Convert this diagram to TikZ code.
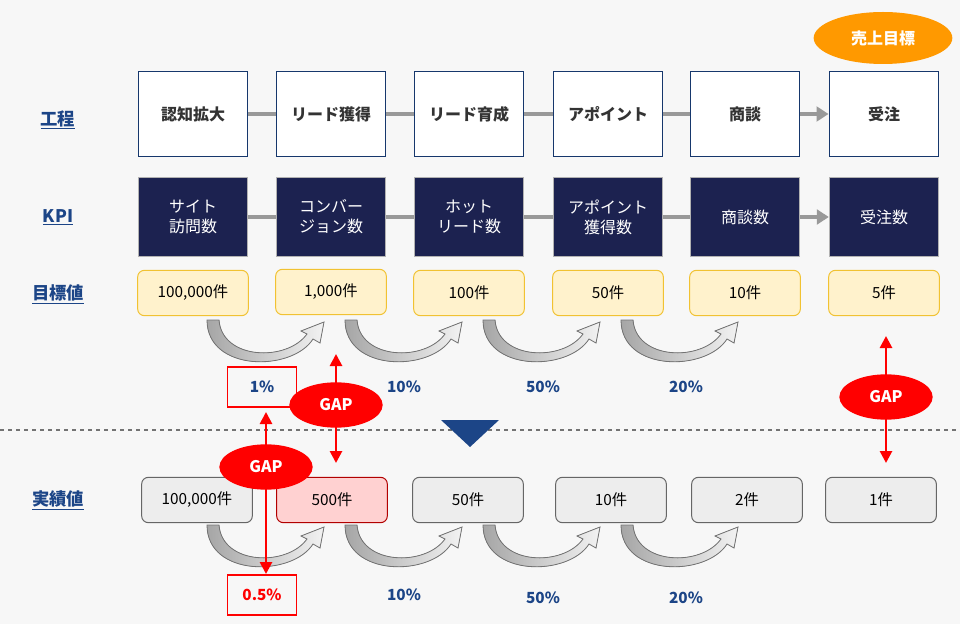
\documentclass[tikz,border=0pt]{standalone}
\usepackage{fontspec}
\setmainfont{Noto Sans CJK JP}
\usetikzlibrary{arrows.meta,shapes.geometric}
\definecolor{bgc}{HTML}{F7F7F7}
\definecolor{navy}{HTML}{1C2250}
\definecolor{lblue}{HTML}{1C4587}
\definecolor{goalfill}{HTML}{FFF2CC}
\definecolor{goaldraw}{HTML}{F1C232}
\definecolor{gapred}{HTML}{FF0000}
\definecolor{orng}{HTML}{FF9900}
\tikzset{every picture/.style={line width=0.75pt},
  procbox/.style={draw=lblue!80!black,fill=white,line width=1.2pt,minimum width=82pt,minimum height=64pt,font=\bfseries\fontsize{12}{14}\selectfont,text=black!80},
  kpibox/.style={fill=navy,draw=gray!60,minimum width=82pt,minimum height=59pt,align=center,font=\fontsize{12}{15}\selectfont,text=white},
  goalbox/.style={draw=goaldraw,fill=goalfill,rounded corners=5pt,minimum width=83pt,minimum height=34pt,font=\fontsize{11.5}{14}\selectfont},
  actbox/.style={draw=black!60,fill=black!7,rounded corners=5pt,minimum width=83pt,minimum height=34pt,font=\fontsize{11.5}{14}\selectfont},
  rowlbl/.style={font=\bfseries\fontsize{13}{15}\selectfont,text=lblue},
  pct/.style={font=\bfseries\fontsize{11.5}{14}\selectfont,text=lblue},
  gapell/.style={ellipse,fill=gapred,minimum width=70pt,minimum height=34pt,inner sep=0pt,font=\bfseries\fontsize{12}{14}\selectfont,text=white},
  link/.style={draw=black!40,line width=2.5pt},
  gaparrow/.style={draw=gapred,line width=2pt,{Triangle[width=9pt,length=9pt]}-{Triangle[width=9pt,length=9pt]}}
}
\newcommand{\turnarrow}[2]{%
  \fill[left color=black!35,right color=black!5,draw=black!55,line width=0.6pt,shift={(#1,#2)}]
    (0,0) -- (12,0) .. controls (15,40) and (80,42) .. (100,14) -- (94,11) -- (117,2) -- (113,23) -- (106,19)
    .. controls (85,52) and (0,52) .. (0,0) -- cycle;}

\begin{document}
\begin{tikzpicture}[x=0.75pt,y=0.75pt,yscale=-1,xscale=1]
\useasboundingbox[fill=bgc] (0,0) rectangle (960,624);

% row labels
\node[rowlbl] (lproc) at (58,120) {\underline{工程}};
\node[rowlbl] (lkpi) at (58,217) {\underline{KPI}};
\node[rowlbl] (lgoal) at (58,294) {\underline{目標値}};
\node[rowlbl] (lact) at (58,500) {\underline{実績値}};

% process row
\node[procbox] (p1) at (193,114) {認知拡大};
\node[procbox] (p2) at (331,114) {リード獲得};
\node[procbox] (p3) at (469,114) {リード育成};
\node[procbox] (p4) at (608,114) {アポイント};
\node[procbox] (p5) at (745,114) {商談};
\node[procbox] (p6) at (884,114) {受注};
\foreach \a/\b in {p1/p2,p2/p3,p3/p4,p4/p5} \draw[link] (\a) -- (\b);
\draw[link,-{Triangle[width=11pt,length=9pt]}] (p5) -- (p6);

% KPI row
\node[kpibox] (k1) at (193,217) {サイト\\訪問数};
\node[kpibox] (k2) at (331,217) {コンバー\\ジョン数};
\node[kpibox] (k3) at (469,217) {ホット\\リード数};
\node[kpibox] (k4) at (608,217) {アポイント\\獲得数};
\node[kpibox] (k5) at (745,217) {商談数};
\node[kpibox] (k6) at (884,217) {受注数};
\foreach \a/\b in {k1/k2,k2/k3,k3/k4,k4/k5} \draw[link] (\a) -- (\b);
\draw[link,-{Triangle[width=11pt,length=9pt]}] (k5) -- (k6);

% target row
\node[goalbox] (g1) at (193,293) {100,000件};
\node[goalbox] (g2) at (331,292) {1,000件};
\node[goalbox] (g3) at (469,293) {100件};
\node[goalbox] (g4) at (608,293) {50件};
\node[goalbox] (g5) at (745,293) {10件};
\node[goalbox] (g6) at (884,293) {5件};

% actual row
\node[actbox] (a1) at (197,500) {100,000件};
\node[actbox,fill=red!18,draw=red!70!black] (a2) at (332,500) {500件};
\node[actbox] (a3) at (468,500) {50件};
\node[actbox] (a4) at (611,500) {10件};
\node[actbox] (a5) at (747,500) {2件};
\node[actbox] (a6) at (881,500) {1件};

% conversion arrows
\foreach \x in {207,345,483,621} {\turnarrow{\x}{320} \turnarrow{\x}{525}}

% rates
\node[pct,draw=gapred,line width=0.8pt,minimum width=52pt,minimum height=30pt] (r1) at (262,387) {1\%};
\node[pct] (r2) at (404,387) {10\%};
\node[pct] (r3) at (543,387) {50\%};
\node[pct] (r4) at (686,387) {20\%};
\node[pct,text=gapred,draw=gapred,line width=0.8pt,minimum width=52pt,minimum height=30pt] (s1) at (262,595) {0.5\%};
\node[pct] (s2) at (404,595) {10\%};
\node[pct] (s3) at (543,598) {50\%};
\node[pct] (s4) at (686,598) {20\%};

% divider
\draw[black!55,dashed,line width=0.8pt] (0,430) -- (960,430);
\fill[lblue] (441,420) -- (499,420) -- (470,447) -- cycle;

% gaps
\coordinate (t1) at (336,354); \coordinate (b1) at (336,463);
\coordinate (t2) at (266,412); \coordinate (b2) at (266,574);
\coordinate (t3) at (886,336); \coordinate (b3) at (886,463);
\draw[gaparrow] (t1) -- (b1);
\draw[gaparrow] (t2) -- (b2);
\draw[gaparrow] (t3) -- (b3);
\node[gapell] (gap1) at (336,405) {GAP};
\node[gapell] (gap2) at (266,467) {GAP};
\node[gapell] (gap3) at (886,397) {GAP};

% sales goal
\node[ellipse,fill=orng,minimum width=104pt,minimum height=39pt,inner sep=0pt,text=white,font=\bfseries\fontsize{12}{14}\selectfont] (sales) at (883,38) {売上目標};
\end{tikzpicture}
\end{document}
